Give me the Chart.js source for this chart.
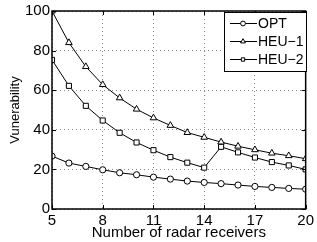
<!DOCTYPE html>
<html>
<head>
<meta charset="utf-8">
<script src="https://cdn.jsdelivr.net/npm/chart.js@4.4.1/dist/chart.umd.min.js"></script>
<style>
    html, body { margin: 0; padding: 0; background: #fff; }
</style>
</head>
<body>
<canvas id="myChart" width="317" height="242"></canvas>
<script>
var receivers = [5, 6, 7, 8, 9, 10, 11, 12, 13, 14, 15, 16, 17, 18, 19, 20];
var optValues = [26.7, 23.2, 21.5, 19.8, 18.3, 17.3, 16.1, 15.1, 14.1, 13.4, 12.8, 12.1, 11.4, 10.9, 10.4, 10.0];
var heu1Values = [100, 84, 71.9, 62.8, 56.1, 50.4, 46.0, 42.2, 38.6, 36.2, 33.8, 31.7, 29.9, 28.2, 26.9, 25.4];
var heu2Values = [75.3, 62.2, 52.1, 44.7, 38.5, 33.6, 29.7, 26.2, 23.4, 20.9, 31.4, 28.6, 26.0, 23.7, 22.0, 20.0];
var xTicks = [5, 8, 11, 14, 17, 20];
var yTicks = [0, 20, 40, 60, 80, 100];

function toPoints(values) {
    return receivers.map(function (r, i) { return { x: r, y: values[i] }; });
}

var fontFamily = '"Liberation Sans", Arial, Helvetica, sans-serif';

function markerSize(style) {
    if (style === 'triangle') return 3.8;
    if (style === 'rect') return 3.6;
    return 3.1;
}

function makeSet(label, values, style) {
    return {
        label: label,
        data: toPoints(values),
        borderColor: '#000',
        borderWidth: 1,
        pointStyle: style,
        pointRadius: markerSize(style),
        pointBorderColor: '#000',
        pointBorderWidth: 1,
        pointBackgroundColor: '#fff',
        tension: 0,
        fill: false
    };
}

// frame, inward ticks and boxed legend like the original figure
var framePlugin = {
    id: 'frame',
    afterDatasetsDraw: function (chart) {
        var ctx = chart.ctx;
        var a = chart.chartArea;
        var xs = chart.scales.x, ys = chart.scales.y;
        ctx.save();
        ctx.strokeStyle = '#000';
        ctx.lineWidth = 1;
        ctx.beginPath();
        xTicks.forEach(function (t) {
            var px = Math.round(xs.getPixelForValue(t)) + 0.5;
            ctx.moveTo(px, a.bottom); ctx.lineTo(px, a.bottom - 4);
            ctx.moveTo(px, a.top); ctx.lineTo(px, a.top + 4);
        });
        yTicks.forEach(function (t) {
            var py = Math.round(ys.getPixelForValue(t)) + 0.5;
            ctx.moveTo(a.left, py); ctx.lineTo(a.left + 4, py);
            ctx.moveTo(a.right, py); ctx.lineTo(a.right - 4, py);
        });
        ctx.stroke();
        ctx.lineWidth = 1.5;
        ctx.strokeRect(a.left, a.top, a.right - a.left, a.bottom - a.top);

        // legend box
        var bx = 224, by = 12, bw = 82, bh = 59;
        ctx.fillStyle = '#fff';
        ctx.fillRect(bx, by, bw, bh);
        ctx.lineWidth = 1;
        ctx.strokeRect(bx + 0.5, by + 0.5, bw, bh);
        ctx.font = '14px ' + fontFamily;
        ctx.textBaseline = 'middle';
        ctx.textAlign = 'left';
        chart.data.datasets.forEach(function (ds, i) {
            var y = by + 11 + i * 18;
            ctx.strokeStyle = '#000';
            ctx.lineWidth = 1;
            ctx.beginPath();
            ctx.moveTo(bx + 6, y + 0.5); ctx.lineTo(bx + 33, y + 0.5);
            ctx.stroke();
            ctx.fillStyle = '#fff';
            Chart.helpers.drawPoint(ctx, {
                pointStyle: ds.pointStyle,
                radius: ds.pointStyle === 'triangle' ? 2.8 : 2.4,
                borderWidth: 1
            }, bx + 19, y + 0.5);
            ctx.fillStyle = '#000';
            ctx.fillText(ds.label, bx + 34, y + 1);
        });
        ctx.restore();
    }
};

var ctx = document.getElementById('myChart').getContext('2d');
var myChart = new Chart(ctx, {
    type: 'line',
    data: {
        datasets: [
            makeSet('OPT', optValues, 'circle'),
            makeSet('HEU\u22121', heu1Values, 'triangle'),
            makeSet('HEU\u22122', heu2Values, 'rect')
        ]
    },
    options: {
        responsive: false,
        animation: false,
        layout: { padding: { top: 10, right: 8, left: 8, bottom: 0 } },
        scales: {
            x: {
                type: 'linear',
                min: 5,
                max: 20,
                afterBuildTicks: function (s) { s.ticks = xTicks.map(function (v) { return { value: v }; }); },
                afterFit: function (s) { s.height = 33; },
                grid: { color: '#888', lineWidth: 1, drawTicks: false },
                border: { display: false, dash: [1, 3] },
                ticks: { color: '#000', padding: 3, maxRotation: 0, font: { family: fontFamily, size: 15 } },
                title: {
                    display: true,
                    text: 'Number of radar receivers',
                    color: '#000',
                    padding: { top: 0, bottom: 0 },
                    font: { family: fontFamily, size: 15 }
                }
            },
            y: {
                min: 0,
                max: 100,
                afterBuildTicks: function (s) { s.ticks = yTicks.map(function (v) { return { value: v }; }); },
                afterFit: function (s) { s.width = 44; },
                grid: { color: '#888', lineWidth: 1, drawTicks: false },
                border: { display: false, dash: [1, 3] },
                ticks: { color: '#000', padding: 2, font: { family: fontFamily, size: 15 } },
                title: {
                    display: true,
                    text: 'Vunerability',
                    color: '#000',
                    padding: { top: 0, bottom: 0 },
                    font: { family: fontFamily, size: 13 }
                }
            }
        },
        plugins: {
            legend: { display: false },
            tooltip: { enabled: false }
        }
    },
    plugins: [framePlugin]
});
</script>
</body>
</html>
